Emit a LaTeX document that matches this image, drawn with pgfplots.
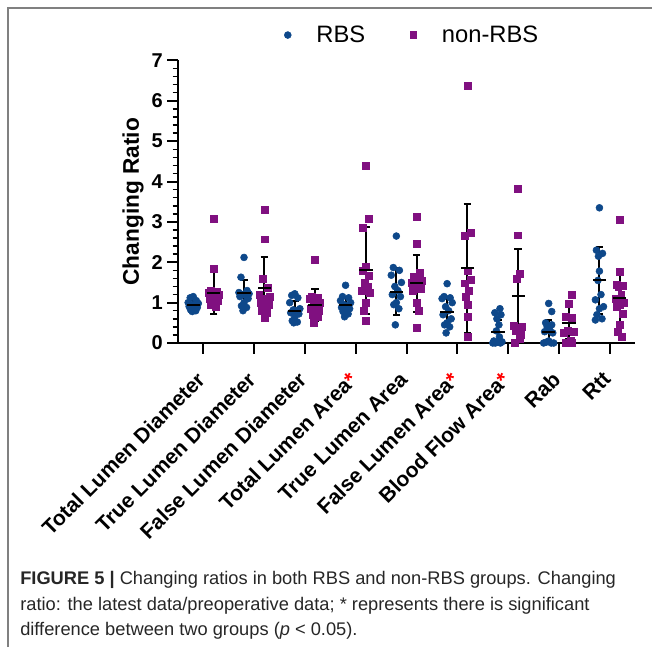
\documentclass[border=0pt]{standalone}
\usepackage{pgfplots}
\pgfplotsset{compat=1.18}
\usepackage{pgfplotstable}
\usepackage{fontspec}
\setmainfont{Liberation Sans}
\definecolor{rbs}{RGB}{14,72,138}
\definecolor{nrbs}{RGB}{128,16,128}
\definecolor{framegray}{RGB}{128,128,128}
\pgfplotsset{marklegend/.style={legend image code/.code={\draw[##1] plot[only marks] coordinates {(0pt,0pt)}; \path[draw=none] (-3pt,0pt) (19.5pt,0pt);}}}

% c = category, o = horizontal jitter, v = value
\pgfplotstableread{
c o v
0 0.00 1.15
0 -0.06 1.12
0 0.06 1.05
0 -0.10 1.00
0 0.10 0.98
0 -0.03 0.95
0 0.03 0.92
0 -0.08 0.90
0 0.08 0.88
0 0.00 0.85
0 -0.05 0.82
0 0.05 0.80
0 -0.02 0.78
1 0.00 2.12
1 -0.06 1.63
1 0.06 1.30
1 -0.10 1.25
1 0.10 1.22
1 -0.03 1.20
1 0.03 1.18
1 -0.08 1.15
1 0.08 1.10
1 0.00 1.00
1 -0.05 0.92
1 0.05 0.88
1 -0.02 0.80
2 0.00 1.22
2 -0.06 1.18
2 0.06 1.12
2 -0.10 1.00
2 0.10 0.85
2 -0.03 0.82
2 0.03 0.80
2 -0.08 0.75
2 0.08 0.72
2 0.00 0.65
2 -0.05 0.55
2 0.05 0.52
2 -0.02 0.50
3 0.00 1.43
3 -0.06 1.15
3 0.06 1.12
3 -0.10 1.05
3 0.10 1.00
3 -0.03 0.95
3 0.03 0.90
3 -0.08 0.88
3 0.08 0.85
3 0.00 0.82
3 -0.05 0.78
3 0.05 0.72
3 -0.02 0.65
4 0.00 2.65
4 -0.06 1.87
4 0.06 1.80
4 -0.10 1.68
4 0.10 1.50
4 -0.03 1.40
4 0.03 1.30
4 -0.08 1.20
4 0.08 1.15
4 0.00 1.00
4 -0.05 0.95
4 0.05 0.85
4 -0.02 0.45
5 0.00 1.47
5 -0.06 1.15
5 0.06 1.12
5 -0.10 1.10
5 0.10 1.00
5 -0.03 0.90
5 0.03 0.80
5 -0.08 0.70
5 0.08 0.60
5 0.00 0.50
5 -0.05 0.45
5 0.05 0.40
5 -0.02 0.25
6 0.04 0.85
6 -0.06 0.75
6 0.06 0.70
6 -0.02 0.60
6 0.02 0.45
6 -0.03 0.30
6 0.03 0.15
6 -0.08 0.05
6 0.08 0.03
6 0.00 0.02
6 -0.05 0.00
6 0.05 0.00
6 -0.10 0.00
7 0.00 0.98
7 0.06 0.78
7 -0.06 0.50
7 0.06 0.45
7 -0.03 0.40
7 0.03 0.30
7 -0.08 0.28
7 0.08 0.25
7 0.00 0.05
7 -0.05 0.02
7 0.05 0.00
7 -0.10 0.00
7 0.10 0.00
8 0.00 3.35
8 -0.06 2.30
8 0.06 2.22
8 -0.02 2.15
8 0.00 1.78
8 -0.03 1.55
8 0.03 1.20
8 -0.08 1.07
8 0.08 0.90
8 0.00 0.85
8 -0.05 0.70
8 0.05 0.60
8 -0.08 0.57
}\bluedata

\pgfplotstableread{
c o v
0 0.00 3.08
0 0.00 1.85
0 -0.06 1.30
0 0.06 1.28
0 -0.10 1.25
0 0.10 1.20
0 -0.03 1.18
0 0.03 1.15
0 -0.08 1.10
0 0.08 1.05
0 0.00 1.00
0 -0.05 0.95
0 0.05 0.90
1 0.00 3.30
1 0.00 2.57
1 -0.03 1.60
1 0.06 1.37
1 -0.10 1.20
1 0.10 1.15
1 -0.03 1.10
1 0.03 1.05
1 -0.08 1.00
1 0.08 0.95
1 0.00 0.90
1 -0.05 0.80
1 0.05 0.75
1 0.00 0.62
2 0.00 2.07
2 -0.06 1.15
2 0.06 1.12
2 -0.10 1.10
2 0.10 1.00
2 -0.03 0.95
2 0.03 0.90
2 -0.08 0.85
2 0.08 0.80
2 0.00 0.75
2 -0.05 0.70
2 0.05 0.65
2 -0.02 0.50
3 0.00 4.40
3 0.06 3.07
3 -0.06 2.86
3 0.00 1.90
3 -0.06 1.80
3 0.06 1.67
3 -0.03 1.50
3 0.03 1.40
3 -0.08 1.30
3 0.08 1.25
3 0.00 1.00
3 -0.05 0.80
3 0.00 0.55
4 0.00 3.13
4 0.00 2.47
4 0.06 1.75
4 -0.06 1.65
4 0.10 1.55
4 -0.10 1.50
4 0.03 1.45
4 -0.03 1.40
4 0.08 1.35
4 -0.08 1.30
4 0.00 1.00
4 0.05 0.80
4 0.00 0.38
5 0.00 6.37
5 0.06 2.72
5 -0.06 2.66
5 0.00 1.80
5 0.06 1.56
5 -0.06 1.48
5 0.03 1.30
5 -0.03 1.15
5 0.00 0.94
5 0.00 0.65
5 0.00 0.15
6 0.00 3.83
6 0.00 2.67
6 0.03 1.72
6 -0.03 1.60
6 -0.08 0.42
6 0.08 0.40
6 0.00 0.38
6 -0.05 0.30
6 0.05 0.20
6 0.03 0.10
6 -0.06 0.00
7 0.06 1.19
7 0.00 0.98
7 -0.06 0.65
7 0.06 0.62
7 -0.03 0.30
7 0.10 0.28
7 -0.10 0.25
7 0.03 0.05
7 -0.06 0.00
7 0.06 0.00
8 0.00 3.05
8 0.00 1.77
8 -0.06 1.45
8 0.06 1.42
8 -0.03 1.40
8 0.03 1.20
8 -0.08 1.10
8 0.08 1.00
8 0.00 0.95
8 -0.05 0.90
8 0.05 0.72
8 0.00 0.45
8 -0.04 0.28
8 0.04 0.15
}\purpledata

% mean and standard deviation
\pgfplotstableread{
c m s
0 0.94 0.12
1 1.23 0.33
2 0.80 0.25
3 0.93 0.20
4 1.27 0.58
5 0.78 0.36
6 0.28 0.28
7 0.28 0.28
8 1.55 0.82
}\bluestats

\pgfplotstableread{
c m s
0 1.25 0.52
1 1.37 0.75
2 0.95 0.40
3 1.80 1.07
4 1.48 0.70
5 1.85 1.60
6 1.17 1.17
7 0.50 0.40
8 1.11 0.72
}\purplestats

\begin{document}
\begin{tikzpicture}
\path[use as bounding box] (0,0) rectangle (489pt,485.25pt);
\draw[framegray, line width=1.5pt] (6pt,0) -- (6pt,479.25pt) -- (489pt,479.25pt);
\begin{axis}[
  at={(133.5pt,228pt)}, anchor=south west,
  scale only axis, width=342.75pt, height=211.9pt,
  xmin=-0.5, xmax=8.5, ymin=0, ymax=7,
  axis lines*=left,
  axis line style={line width=1.5pt},
  clip=false,
  xtick={0,...,8},
  xticklabels={Total Lumen Diameter, True Lumen Diameter, False Lumen Diameter,
    Total Lumen Area\textcolor{red}{*}, True Lumen Area,
    False Lumen Area\textcolor{red}{*}, Blood Flow Area\textcolor{red}{*}, Rab, Rtt},
  xticklabel style={xshift=-6pt, yshift=-11pt, rotate=45, anchor=north east, inner sep=1pt,
    font=\fontsize{15.8}{18}\selectfont\bfseries},
  ytick={0,...,7},
  minor y tick num=4,
  yticklabel style={font=\fontsize{15}{18}\selectfont\bfseries},
  /pgf/number format/assume math mode=true,
  tick align=outside,
  major tick length=8pt, minor tick length=4pt,
  major tick style={black, line width=1.5pt},
  minor tick style={black, line width=1.1pt},
  ylabel={Changing Ratio},
  ylabel style={font=\fontsize{17}{20}\selectfont\bfseries, at={(axis description cs:-0.0985,0.5)}, anchor=center},
  legend columns=2,
  legend style={draw=none, fill=none, at={(axis description cs:0.2309,1.09)}, anchor=west,
    inner sep=0pt, font=\fontsize{17.8}{20}\selectfont,
    /tikz/every even column/.append style={column sep=31pt}},
]
\addplot[only marks, mark=*, mark size=2.6pt, color=rbs, marklegend]
  table[x expr=\thisrow{c}-0.2+\thisrow{o}, y=v] {\bluedata};
\addlegendentry{RBS}
\addplot[only marks, mark=square*, mark size=2.6pt, color=nrbs, marklegend]
  table[x expr=\thisrow{c}+0.2+\thisrow{o}, y=v] {\purpledata};
\addlegendentry{non-RBS}
\addplot[forget plot, only marks, black, mark=-, mark size=5pt, mark options={line width=1.5pt},
  error bars/.cd, y dir=both, y explicit,
  error bar style={line width=1.5pt, black},
  error mark options={rotate=90, mark size=2.8pt, line width=1.5pt, black}]
  table[x expr=\thisrow{c}-0.2, y=m, y error=s] {\bluestats};
\addplot[forget plot, only marks, black, mark=-, mark size=5pt, mark options={line width=1.5pt},
  error bars/.cd, y dir=both, y explicit,
  error bar style={line width=1.5pt, black},
  error mark options={rotate=90, mark size=2.8pt, line width=1.5pt, black}]
  table[x expr=\thisrow{c}+0.2, y=m, y error=s] {\purplestats};
\end{axis}
\node[anchor=base west, inner sep=0pt, font=\fontsize{13.7}{16}\selectfont, text=black!85] at (15pt,47.25pt)
  {\textbf{FIGURE 5 |} Changing ratios in both RBS and non-RBS groups. Changing};
\node[anchor=base west, inner sep=0pt, font=\fontsize{13.7}{16}\selectfont, text=black!85] at (15pt,27.75pt)
  {ratio: the latest data/preoperative data; * represents there is significant};
\node[anchor=base west, inner sep=0pt, font=\fontsize{13.7}{16}\selectfont, text=black!85] at (15pt,9pt)
  {difference between two groups (\textit{p} < 0.05).};
\end{tikzpicture}
\end{document}
